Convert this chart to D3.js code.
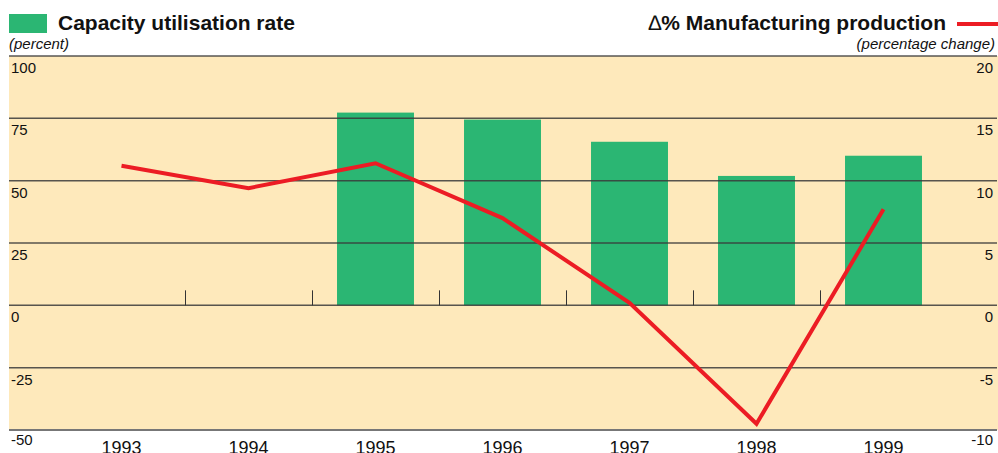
<!DOCTYPE html>
<html>
<head>
<meta charset="utf-8">
<script src="https://cdn.jsdelivr.net/npm/d3@7"></script>
<style>
  body { margin: 0; background: #fff; }
  text { font-family: "Liberation Sans", Arial, sans-serif; fill: #111; }
</style>
</head>
<body>
<div id="chart"></div>
<script>
// Data
const years = ["1993", "1994", "1995", "1996", "1997", "1998", "1999"];
const capacity = [null, null, 77.3, 74.5, 65.6, 51.9, 60.0];
const production = [11.2, 9.4, 11.4, 7.0, 0.2, -9.5, 7.7];
const leftTicks = [100, 75, 50, 25, 0, -25, -50];
const rightTicks = [20, 15, 10, 5, 0, -5, -10];

const width = 998;
const height = 453;
const plot = { left: 9, right: 998, top: 56, bottom: 430 };

const svg = d3.select("#chart")
    .append("svg")
    .attr("width", width)
    .attr("height", height);

// Scales
const x = d3.scaleBand()
    .domain(years)
    .range([58, 947])
    .padding(0);

const yLeft = d3.scaleLinear()
    .domain([-50, 100])
    .range([plot.bottom, plot.top]);

const yRight = d3.scaleLinear()
    .domain([-10, 20])
    .range([plot.bottom, plot.top]);

// Background
svg.append("rect")
    .attr("x", plot.left)
    .attr("y", plot.top)
    .attr("width", plot.right - plot.left)
    .attr("height", plot.bottom - plot.top)
    .attr("fill", "#fee9bb");

// Bars
const barW = x.bandwidth() * 0.606;
svg.append("g")
    .selectAll("rect")
    .data(years.map((y, i) => ({ year: y, value: capacity[i] })).filter(d => d.value !== null))
    .enter().append("rect")
    .attr("x", d => x(d.year) + (x.bandwidth() - barW) / 2)
    .attr("y", d => yLeft(d.value))
    .attr("width", barW)
    .attr("height", d => yLeft(0) - yLeft(d.value))
    .attr("fill", "#2bb673");

// Grid lines
svg.append("g")
    .selectAll("line")
    .data(leftTicks.filter(t => t !== -50))
    .enter().append("line")
    .attr("x1", plot.left)
    .attr("x2", plot.right - 1)
    .attr("y1", d => yLeft(d))
    .attr("y2", d => yLeft(d))
    .attr("stroke", "#3a3a3a")
    .attr("stroke-opacity", 0.85)
    .attr("stroke-width", 1.5);

svg.append("line")
    .attr("x1", plot.left)
    .attr("x2", plot.right - 1)
    .attr("y1", yLeft(-50))
    .attr("y2", yLeft(-50))
    .attr("stroke", "#777")
    .attr("stroke-width", 2);

// Category ticks on zero line
svg.append("g")
    .selectAll("line")
    .data(years.slice(1))
    .enter().append("line")
    .attr("x1", d => Math.round(x(d)) + 0.5)
    .attr("x2", d => Math.round(x(d)) + 0.5)
    .attr("y1", yLeft(0))
    .attr("y2", yLeft(0) - 15)
    .attr("stroke", "#333")
    .attr("stroke-width", 1);

// Production line
const line = d3.line()
    .x((d, i) => x(years[i]) + x.bandwidth() / 2)
    .y(d => yRight(d));

svg.append("path")
    .datum(production)
    .attr("d", line)
    .attr("fill", "none")
    .attr("stroke", "#ec1c24")
    .attr("stroke-width", 4)
    .attr("stroke-linejoin", "miter");

// Axis labels
svg.append("g")
    .selectAll("text")
    .data(leftTicks)
    .enter().append("text")
    .attr("x", 11)
    .attr("y", d => yLeft(d) + (d === -50 ? 15 : 17))
    .style("font-size", "15px")
    .text(d => d);

svg.append("g")
    .selectAll("text")
    .data(rightTicks)
    .enter().append("text")
    .attr("x", 993)
    .attr("y", d => yRight(d) + (d === -10 ? 15 : 17))
    .attr("text-anchor", "end")
    .style("font-size", "15px")
    .text(d => d);

svg.append("g")
    .selectAll("text")
    .data(years)
    .enter().append("text")
    .attr("x", d => x(d) + x.bandwidth() / 2)
    .attr("y", 454)
    .attr("text-anchor", "middle")
    .style("font-size", "18px")
    .text(d => d);

// Legend / titles
svg.append("rect")
    .attr("x", 9)
    .attr("y", 14)
    .attr("width", 38)
    .attr("height", 19)
    .attr("fill", "#2bb673");

svg.append("text")
    .attr("x", 58)
    .attr("y", 30)
    .style("font-size", "21px")
    .style("font-weight", "bold")
    .text("Capacity utilisation rate");

svg.append("text")
    .attr("x", 9)
    .attr("y", 49)
    .style("font-size", "15px")
    .style("font-style", "italic")
    .text("(percent)");

const rightTitle = svg.append("text")
    .attr("x", 946)
    .attr("y", 30)
    .attr("text-anchor", "end")
    .style("font-size", "21px")
    .style("font-weight", "bold");
rightTitle.append("tspan")
    .style("font-weight", "normal")
    .text("\u2206");
rightTitle.append("tspan")
    .text("% Manufacturing production");

svg.append("line")
    .attr("x1", 957)
    .attr("x2", 998)
    .attr("y1", 24)
    .attr("y2", 24)
    .attr("stroke", "#ec1c24")
    .attr("stroke-width", 4);

svg.append("text")
    .attr("x", 995)
    .attr("y", 49)
    .attr("text-anchor", "end")
    .style("font-size", "15px")
    .style("font-style", "italic")
    .text("(percentage change)");
</script>
</body>
</html>
